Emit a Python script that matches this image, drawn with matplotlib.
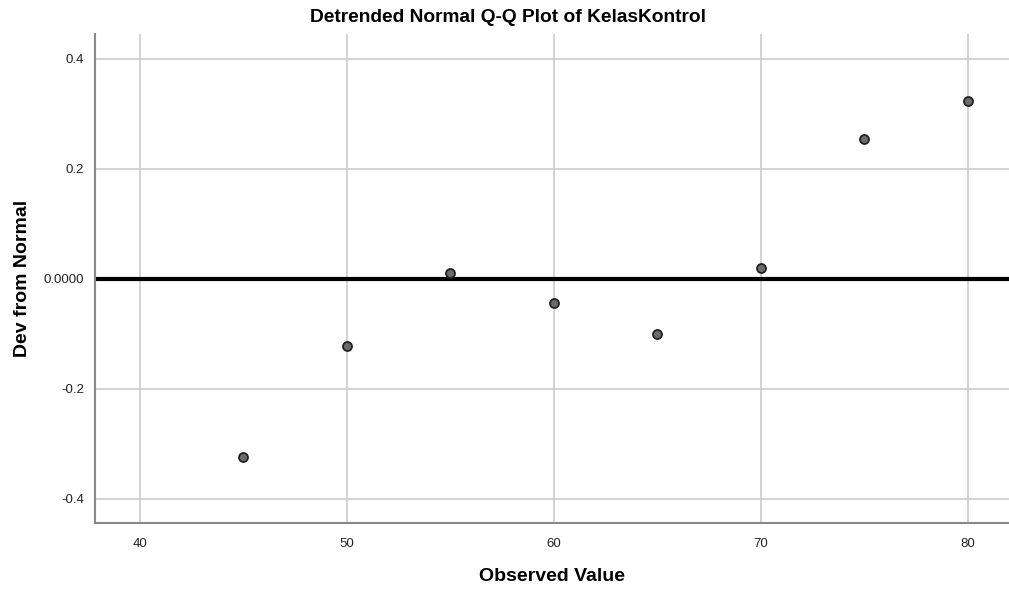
import matplotlib
matplotlib.use("Agg")
import matplotlib.pyplot as plt

plt.rcParams['font.family'] = ['Liberation Sans', 'DejaVu Sans']

# observed values and deviation from normal
observed = [45, 50, 55, 60, 65, 70, 75, 80]
deviation = [-0.3236, -0.1220, 0.0110, -0.0440, -0.1000, 0.0200, 0.2545, 0.3236]

xticks = [40, 50, 60, 70, 80]
yticks = [-0.4, -0.2, 0.0, 0.2, 0.4]
ytick_labels = ['-0.4', '-0.2', '0.0000', '0.2', '0.4']

fig = plt.figure(figsize=(10.09, 5.97), dpi=100)
ax = fig.add_axes([0.0942, 0.124, 0.9058, 0.819])

ax.grid(True, color='#cccccc', linewidth=1.2, zorder=0)
ax.axhline(0, color='black', linewidth=3, zorder=2)
ax.scatter(observed, deviation, s=42, facecolor='#6b6b6b', edgecolor='#222222',
           linewidth=1.3, zorder=3)

ax.set_xlim(37.83, 82.0)
ax.set_ylim(-0.444, 0.445)
ax.set_xticks(xticks)
ax.set_yticks(yticks)
ax.set_yticklabels(ytick_labels)
ax.tick_params(length=0, labelsize=9.5, colors='#222222')
ax.tick_params(axis='x', pad=11)
ax.tick_params(axis='y', pad=8)

for s in ['top', 'right']:
    ax.spines[s].set_visible(False)
for s in ['left', 'bottom']:
    ax.spines[s].set_color('#888888')
    ax.spines[s].set_linewidth(1.5)

# title is centred on the whole figure, not the axes
fig.text(0.5035, 0.971, 'Detrended Normal Q-Q Plot of KelasKontrol', fontsize=13.8,
         fontweight='bold', ha='center', va='center')
ax.set_xlabel('Observed Value', fontsize=14, fontweight='bold', labelpad=13)
ax.set_ylabel('Dev from Normal', fontsize=14, fontweight='bold', labelpad=9)

fig.savefig('out.png', dpi=100)
